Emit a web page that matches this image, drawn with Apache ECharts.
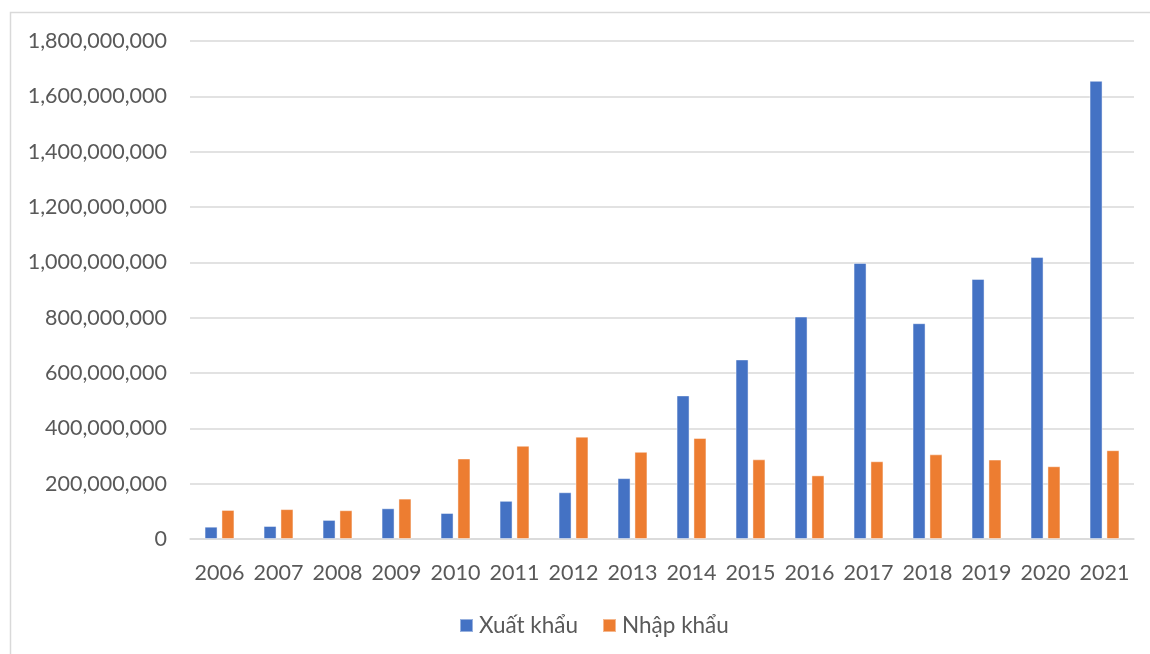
<!DOCTYPE html>
<html>
<head>
<meta charset="utf-8">
<script src="https://cdn.jsdelivr.net/npm/echarts@6/dist/echarts.min.js"></script>
<style>
  html, body { margin: 0; padding: 0; background: #fff; }
  #chart { width: 1150px; height: 654px; }
</style>
</head>
<body>
<div id="chart"></div>
<script>
// Years on the category axis
const years = ['2006','2007','2008','2009','2010','2011','2012','2013','2014','2015','2016','2017','2018','2019','2020','2021'];
// Export values
const xuatKhau = [44500000, 47000000, 69000000, 111000000, 94000000, 138000000, 169000000, 220000000, 519000000, 649000000, 804000000, 998000000, 780000000, 940000000, 1019000000, 1656000000];
// Import values
const nhapKhau = [105000000, 108000000, 104000000, 146000000, 291000000, 337000000, 370000000, 315000000, 365000000, 288000000, 230000000, 281000000, 306000000, 287000000, 263000000, 321000000];
const seriesNames = ['Xuất khẩu', 'Nhập khẩu'];

const FONT = 'Lato';
const TEXT = '#595959';

const chart = echarts.init(document.getElementById('chart'), null, { renderer: 'canvas' });
chart.setOption({
  animation: false,
  backgroundColor: '#fff',
  color: ['#4472C4', '#ED7D31'],
  graphic: [{
    type: 'rect',
    shape: { x: 10.5, y: 12.5, width: 1160, height: 660 },
    style: { fill: 'none', stroke: '#D9D9D9', lineWidth: 1.5 },
    silent: true
  }],
  grid: { left: 190, right: 16, top: 41, bottom: 115, containLabel: false },
  legend: {
    bottom: 12,
    left: 454,
    itemWidth: 13,
    itemHeight: 13,
    itemGap: 24,
    icon: 'rect',
    textStyle: { fontFamily: FONT, fontSize: 22.5, color: TEXT, padding: [0, 0, 0, 1] },
    data: seriesNames
  },
  xAxis: {
    type: 'category',
    data: years,
    axisLine: { show: true, lineStyle: { color: '#D9D9D9', width: 1.5 } },
    axisTick: { show: false },
    axisLabel: { interval: 0, fontFamily: FONT, fontSize: 21.5, color: TEXT, margin: 23 }
  },
  yAxis: {
    type: 'value',
    min: 0,
    max: 1800000000,
    interval: 200000000,
    axisLine: { show: false },
    axisTick: { show: false },
    splitLine: { lineStyle: { color: '#D9D9D9', width: 1.5 } },
    axisLabel: {
      fontFamily: FONT, fontSize: 21.5, color: TEXT, margin: 23,
      formatter: v => v.toLocaleString('en-US')
    }
  },
  series: [
    {
      name: seriesNames[0], type: 'bar', data: xuatKhau,
      barWidth: 13, barGap: '30%',
      itemStyle: { borderColor: 'rgba(255,255,255,0.45)', borderWidth: 1 }
    },
    {
      name: seriesNames[1], type: 'bar', data: nhapKhau,
      barWidth: 13, barGap: '30%',
      itemStyle: { borderColor: 'rgba(255,255,255,0.45)', borderWidth: 1 }
    }
  ]
});
</script>
</body>
</html>
